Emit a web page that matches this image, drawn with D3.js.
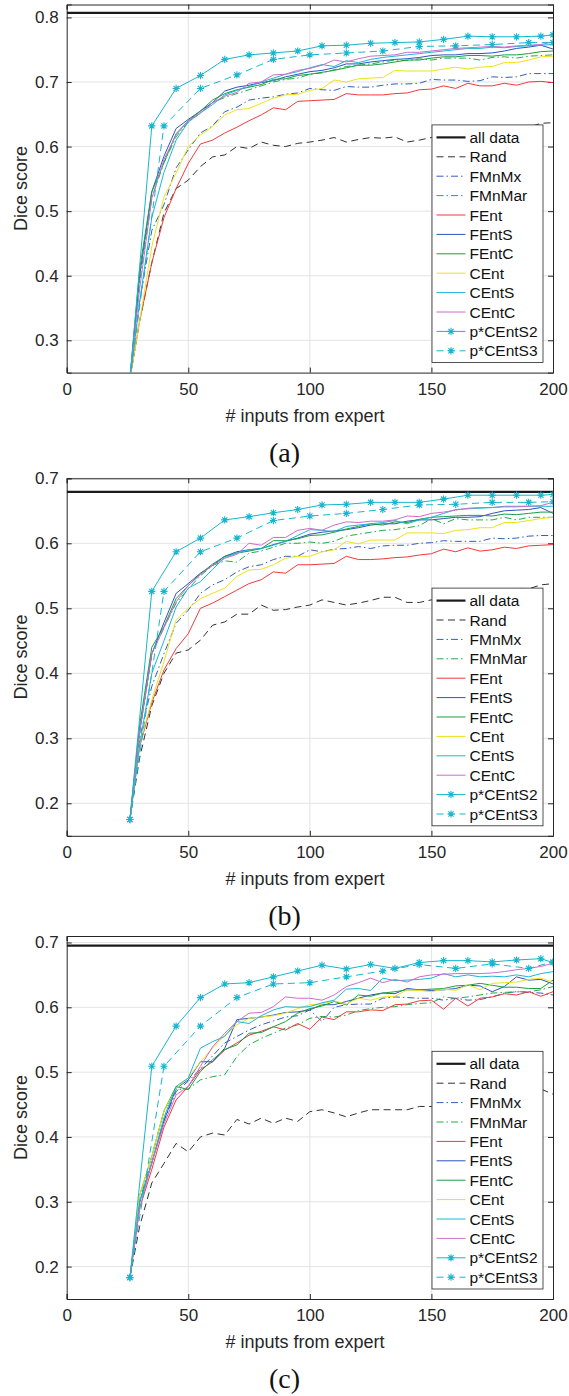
<!DOCTYPE html>
<html lang="en">
<head>
<meta charset="UTF-8">
<title>Dice score vs. number of expert inputs</title>
<script src="https://d3js.org/d3.v7.min.js"></script>
<style>
  body { margin: 0; background: #fff; }
  svg { display: block; font-family: "Liberation Sans", Arial, sans-serif; }
</style>
</head>
<body>
<svg id="chart" width="569" height="1396"></svg>
<script>
// x positions (number of inputs) shared by the plain curves
const xSteps = [26, 30, 35, 40, 45, 50, 55, 60, 65, 70, 75, 80, 85, 90, 95, 100, 105, 110, 115, 120,
                125, 130, 135, 140, 145, 150, 155, 160, 165, 170, 175, 180, 185, 190, 195, 200];
const xS2 = [26, 35, 45, 55, 65, 75, 85, 95, 105, 115, 125, 135, 145, 155, 165, 175, 185, 195, 200];
const xS3 = [26, 40, 55, 70, 85, 100, 115, 130, 145, 160, 175, 190, 200];

const seriesNames = ["all data", "Rand", "FMnMx", "FMnMar", "FEnt", "FEntS", "FEntC",
                     "CEnt", "CEntS", "CEntC", "p*CEntS2", "p*CEntS3"];
const panelLabels = ["(a)", "(b)", "(c)"];
const xTicks = [0, 50, 100, 150, 200];

// ---- panel (a)
const allA = 0.807;
const randA = [0.24, 0.33, 0.42, 0.497, 0.535, 0.548, 0.569, 0.584, 0.587, 0.600, 0.597, 0.607, 0.602, 0.600, 0.605, 0.607, 0.610, 0.614, 0.607, 0.611, 0.614, 0.613, 0.615, 0.607, 0.610, 0.614, 0.612, 0.615, 0.618, 0.620, 0.622, 0.625, 0.627, 0.630, 0.636, 0.637];
const fmnmxA = [0.24, 0.36, 0.47, 0.51, 0.567, 0.595, 0.621, 0.632, 0.654, 0.661, 0.672, 0.675, 0.677, 0.681, 0.683, 0.690, 0.688, 0.687, 0.693, 0.692, 0.692, 0.695, 0.697, 0.697, 0.698, 0.704, 0.703, 0.703, 0.701, 0.702, 0.708, 0.707, 0.708, 0.713, 0.713, 0.713];
const fmnmarA = [0.24, 0.39, 0.52, 0.575, 0.615, 0.638, 0.652, 0.668, 0.676, 0.682, 0.688, 0.694, 0.700, 0.704, 0.706, 0.712, 0.714, 0.719, 0.724, 0.726, 0.728, 0.731, 0.734, 0.733, 0.736, 0.734, 0.737, 0.737, 0.737, 0.734, 0.738, 0.739, 0.737, 0.740, 0.741, 0.742];
const fentA = [0.24, 0.33, 0.42, 0.49, 0.535, 0.574, 0.604, 0.610, 0.621, 0.630, 0.640, 0.649, 0.660, 0.657, 0.670, 0.671, 0.672, 0.673, 0.682, 0.680, 0.680, 0.680, 0.682, 0.683, 0.688, 0.689, 0.694, 0.690, 0.698, 0.694, 0.694, 0.698, 0.695, 0.700, 0.701, 0.699];
const fentsA = [0.24, 0.40, 0.53, 0.585, 0.628, 0.642, 0.655, 0.668, 0.686, 0.692, 0.695, 0.699, 0.702, 0.708, 0.712, 0.716, 0.718, 0.722, 0.728, 0.728, 0.731, 0.733, 0.735, 0.736, 0.738, 0.741, 0.742, 0.742, 0.744, 0.744, 0.745, 0.748, 0.752, 0.754, 0.757, 0.751];
const fentcA = [0.24, 0.41, 0.53, 0.575, 0.620, 0.640, 0.655, 0.672, 0.682, 0.688, 0.692, 0.696, 0.704, 0.705, 0.710, 0.712, 0.715, 0.718, 0.722, 0.726, 0.726, 0.728, 0.731, 0.734, 0.734, 0.737, 0.739, 0.739, 0.741, 0.741, 0.740, 0.742, 0.742, 0.744, 0.747, 0.748];
const centA = [0.24, 0.33, 0.445, 0.522, 0.559, 0.600, 0.618, 0.631, 0.649, 0.657, 0.659, 0.667, 0.675, 0.680, 0.681, 0.687, 0.690, 0.703, 0.700, 0.705, 0.706, 0.707, 0.718, 0.717, 0.717, 0.717, 0.720, 0.723, 0.720, 0.723, 0.724, 0.730, 0.730, 0.734, 0.739, 0.740];
const centsA = [0.24, 0.36, 0.49, 0.56, 0.610, 0.638, 0.652, 0.665, 0.680, 0.687, 0.693, 0.700, 0.706, 0.712, 0.716, 0.722, 0.727, 0.724, 0.733, 0.730, 0.735, 0.738, 0.740, 0.742, 0.744, 0.746, 0.748, 0.750, 0.752, 0.752, 0.754, 0.753, 0.755, 0.756, 0.757, 0.758];
const centcA = [0.24, 0.38, 0.52, 0.58, 0.618, 0.640, 0.652, 0.668, 0.678, 0.684, 0.698, 0.700, 0.711, 0.712, 0.718, 0.721, 0.726, 0.734, 0.731, 0.736, 0.740, 0.741, 0.742, 0.746, 0.746, 0.748, 0.750, 0.752, 0.753, 0.754, 0.755, 0.754, 0.756, 0.757, 0.758, 0.762];
const s2A = [0.24, 0.632, 0.690, 0.710, 0.735, 0.742, 0.745, 0.748, 0.756, 0.757, 0.760, 0.761, 0.762, 0.766, 0.771, 0.770, 0.770, 0.771, 0.773];
const s3A = [0.24, 0.632, 0.690, 0.711, 0.735, 0.742, 0.745, 0.748, 0.755, 0.756, 0.758, 0.761, 0.761];

// ---- panel (b)
const allB = 0.679;
const randB = [0.175, 0.27, 0.35, 0.40, 0.431, 0.436, 0.451, 0.474, 0.479, 0.491, 0.491, 0.505, 0.497, 0.498, 0.502, 0.505, 0.513, 0.509, 0.505, 0.508, 0.512, 0.517, 0.517, 0.509, 0.509, 0.513, 0.514, 0.516, 0.520, 0.522, 0.525, 0.527, 0.530, 0.530, 0.536, 0.538];
const fmnmxB = [0.175, 0.30, 0.38, 0.43, 0.477, 0.497, 0.523, 0.536, 0.544, 0.556, 0.564, 0.567, 0.575, 0.580, 0.580, 0.590, 0.587, 0.591, 0.592, 0.595, 0.592, 0.596, 0.597, 0.597, 0.600, 0.601, 0.604, 0.603, 0.603, 0.603, 0.608, 0.607, 0.608, 0.611, 0.612, 0.612];
const fmnmarB = [0.175, 0.31, 0.43, 0.47, 0.508, 0.530, 0.550, 0.566, 0.573, 0.571, 0.585, 0.588, 0.594, 0.600, 0.600, 0.602, 0.600, 0.603, 0.611, 0.614, 0.617, 0.620, 0.621, 0.624, 0.627, 0.638, 0.630, 0.638, 0.636, 0.636, 0.636, 0.640, 0.636, 0.640, 0.640, 0.640];
const fentB = [0.175, 0.287, 0.355, 0.405, 0.438, 0.461, 0.500, 0.508, 0.518, 0.528, 0.538, 0.544, 0.556, 0.554, 0.567, 0.567, 0.568, 0.569, 0.580, 0.575, 0.575, 0.576, 0.578, 0.579, 0.582, 0.584, 0.591, 0.587, 0.593, 0.588, 0.590, 0.594, 0.592, 0.596, 0.597, 0.598];
const fentsB = [0.175, 0.31, 0.43, 0.478, 0.523, 0.538, 0.554, 0.566, 0.580, 0.587, 0.590, 0.592, 0.598, 0.603, 0.608, 0.614, 0.617, 0.619, 0.621, 0.624, 0.628, 0.630, 0.630, 0.634, 0.636, 0.636, 0.638, 0.640, 0.640, 0.641, 0.646, 0.650, 0.651, 0.652, 0.655, 0.646];
const fentcB = [0.175, 0.32, 0.44, 0.472, 0.515, 0.535, 0.553, 0.568, 0.580, 0.585, 0.588, 0.592, 0.604, 0.604, 0.607, 0.612, 0.613, 0.617, 0.622, 0.626, 0.630, 0.628, 0.633, 0.632, 0.637, 0.640, 0.641, 0.642, 0.643, 0.643, 0.642, 0.645, 0.644, 0.646, 0.648, 0.648];
const centB = [0.175, 0.29, 0.359, 0.418, 0.482, 0.500, 0.515, 0.523, 0.531, 0.549, 0.559, 0.560, 0.567, 0.577, 0.580, 0.580, 0.587, 0.590, 0.603, 0.599, 0.605, 0.605, 0.605, 0.616, 0.616, 0.616, 0.615, 0.620, 0.621, 0.624, 0.624, 0.632, 0.632, 0.635, 0.638, 0.640];
const centsB = [0.175, 0.29, 0.40, 0.45, 0.502, 0.531, 0.541, 0.560, 0.578, 0.585, 0.590, 0.592, 0.597, 0.603, 0.612, 0.621, 0.620, 0.618, 0.626, 0.628, 0.630, 0.632, 0.635, 0.630, 0.636, 0.640, 0.646, 0.652, 0.653, 0.654, 0.655, 0.657, 0.657, 0.657, 0.657, 0.657];
const centcB = [0.175, 0.31, 0.43, 0.47, 0.510, 0.535, 0.552, 0.566, 0.577, 0.583, 0.600, 0.597, 0.609, 0.609, 0.620, 0.623, 0.620, 0.628, 0.633, 0.632, 0.634, 0.634, 0.636, 0.642, 0.641, 0.646, 0.648, 0.651, 0.654, 0.655, 0.655, 0.656, 0.656, 0.657, 0.658, 0.663];
const s2B = [0.175, 0.526, 0.587, 0.608, 0.636, 0.641, 0.647, 0.652, 0.659, 0.660, 0.663, 0.663, 0.663, 0.668, 0.674, 0.674, 0.674, 0.674, 0.675];
const s3B = [0.175, 0.526, 0.587, 0.608, 0.635, 0.642, 0.646, 0.652, 0.659, 0.660, 0.663, 0.663, 0.664];

// ---- panel (c)
const allC = 0.695;
const randC = [0.183, 0.262, 0.329, 0.359, 0.390, 0.377, 0.400, 0.406, 0.403, 0.427, 0.420, 0.429, 0.421, 0.429, 0.424, 0.439, 0.442, 0.437, 0.431, 0.437, 0.442, 0.442, 0.442, 0.442, 0.447, 0.447, 0.447, 0.448, 0.449, 0.452, 0.455, 0.458, 0.460, 0.464, 0.474, 0.466];
const fmnmxC = [0.183, 0.30, 0.36, 0.425, 0.470, 0.486, 0.505, 0.525, 0.545, 0.555, 0.565, 0.573, 0.579, 0.585, 0.587, 0.596, 0.578, 0.600, 0.604, 0.605, 0.605, 0.614, 0.616, 0.615, 0.614, 0.614, 0.611, 0.614, 0.611, 0.612, 0.616, 0.622, 0.624, 0.623, 0.622, 0.619];
const fmnmarC = [0.183, 0.30, 0.37, 0.44, 0.473, 0.474, 0.488, 0.493, 0.496, 0.524, 0.542, 0.552, 0.560, 0.568, 0.573, 0.583, 0.586, 0.585, 0.588, 0.595, 0.598, 0.600, 0.601, 0.604, 0.606, 0.607, 0.616, 0.614, 0.616, 0.619, 0.622, 0.623, 0.624, 0.624, 0.627, 0.632];
const fentC = [0.183, 0.29, 0.35, 0.415, 0.457, 0.478, 0.504, 0.516, 0.534, 0.545, 0.557, 0.563, 0.570, 0.565, 0.575, 0.566, 0.585, 0.581, 0.593, 0.593, 0.596, 0.595, 0.604, 0.605, 0.610, 0.611, 0.597, 0.614, 0.602, 0.614, 0.616, 0.621, 0.619, 0.624, 0.617, 0.624];
const fentsC = [0.183, 0.30, 0.36, 0.425, 0.475, 0.488, 0.516, 0.516, 0.537, 0.581, 0.583, 0.585, 0.588, 0.592, 0.593, 0.596, 0.604, 0.604, 0.609, 0.614, 0.619, 0.622, 0.621, 0.629, 0.627, 0.626, 0.627, 0.629, 0.634, 0.633, 0.624, 0.632, 0.647, 0.642, 0.643, 0.636];
const fentcC = [0.183, 0.31, 0.37, 0.44, 0.478, 0.473, 0.501, 0.519, 0.535, 0.542, 0.560, 0.561, 0.570, 0.578, 0.591, 0.598, 0.602, 0.609, 0.604, 0.619, 0.617, 0.622, 0.624, 0.627, 0.627, 0.628, 0.629, 0.633, 0.634, 0.637, 0.634, 0.631, 0.631, 0.629, 0.629, 0.642];
const centC = [0.183, 0.31, 0.37, 0.44, 0.475, 0.491, 0.516, 0.537, 0.557, 0.573, 0.583, 0.585, 0.587, 0.591, 0.598, 0.604, 0.605, 0.610, 0.605, 0.614, 0.611, 0.616, 0.617, 0.627, 0.626, 0.624, 0.628, 0.626, 0.635, 0.627, 0.637, 0.638, 0.639, 0.643, 0.645, 0.639];
const centsC = [0.183, 0.30, 0.36, 0.43, 0.478, 0.491, 0.537, 0.547, 0.555, 0.578, 0.575, 0.587, 0.596, 0.601, 0.600, 0.601, 0.607, 0.611, 0.628, 0.629, 0.626, 0.645, 0.641, 0.642, 0.643, 0.645, 0.652, 0.647, 0.650, 0.647, 0.648, 0.647, 0.650, 0.647, 0.652, 0.655];
const centcC = [0.183, 0.29, 0.36, 0.42, 0.465, 0.478, 0.509, 0.539, 0.560, 0.578, 0.591, 0.592, 0.601, 0.616, 0.614, 0.614, 0.611, 0.619, 0.632, 0.638, 0.645, 0.638, 0.643, 0.639, 0.647, 0.650, 0.651, 0.652, 0.652, 0.652, 0.653, 0.655, 0.658, 0.660, 0.663, 0.668];
const s2C = [0.183, 0.509, 0.571, 0.615, 0.636, 0.638, 0.647, 0.656, 0.665, 0.659, 0.666, 0.660, 0.669, 0.672, 0.672, 0.670, 0.673, 0.675, 0.669];
const s3C = [0.183, 0.509, 0.571, 0.615, 0.636, 0.638, 0.647, 0.656, 0.666, 0.660, 0.667, 0.660, 0.670];

// line styles, in plotting order
const styles = [
  { color: "#1a1a1a", dash: null,          width: 2.2 },
  { color: "#1a1a1a", dash: "7,4.5",       width: 0.9 },
  { color: "#2f5fc0", dash: "7,3,1.5,3",   width: 1 },
  { color: "#1fae4a", dash: "7,3,1.5,3",   width: 1 },
  { color: "#f03a3a", dash: null,          width: 1 },
  { color: "#2a55c0", dash: null,          width: 1 },
  { color: "#18a040", dash: null,          width: 1 },
  { color: "#ece21a", dash: null,          width: 1 },
  { color: "#1cb6d6", dash: null,          width: 1 },
  { color: "#cc6ccc", dash: null,          width: 1 },
  { color: "#16b6cf", dash: null,          width: 1, marker: true },
  { color: "#16b6cf", dash: "7,4.5",       width: 1, marker: true }
];

const panels = [
  { top: 4.5,   bottom: 372.6, domain: [0.25, 0.82], ticks: [0.3, 0.4, 0.5, 0.6, 0.7, 0.8],
    all: allA, data: [randA, fmnmxA, fmnmarA, fentA, fentsA, fentcA, centA, centsA, centcA, s2A, s3A] },
  { top: 478.3, bottom: 835.8, domain: [0.15, 0.70], ticks: [0.2, 0.3, 0.4, 0.5, 0.6, 0.7],
    all: allB, data: [randB, fmnmxB, fmnmarB, fentB, fentsB, fentcB, centB, centsB, centcB, s2B, s3B] },
  { top: 936,   bottom: 1299,  domain: [0.15, 0.71], ticks: [0.2, 0.3, 0.4, 0.5, 0.6, 0.7],
    all: allC, data: [randC, fmnmxC, fmnmarC, fentC, fentsC, fentcC, centC, centsC, centcC, s2C, s3C] }
];

const svg = d3.select("#chart");
const left = 66.7, right = 553;
const x = d3.scaleLinear().domain([0, 200]).range([left, right]);
const axisColor = "#262626";
const star = "M-3.6,0H3.6M0,-3.6V3.6M-2.6,-2.6L2.6,2.6M-2.6,2.6L2.6,-2.6";

panels.forEach((p, pi) => {
  const y = d3.scaleLinear().domain(p.domain).range([p.bottom, p.top]);
  const g = svg.append("g");
  const clipId = "clip" + pi;
  g.append("clipPath").attr("id", clipId).append("rect")
    .attr("x", left).attr("y", p.top).attr("width", right - left).attr("height", p.bottom - p.top);

  // grid
  g.append("g").selectAll("line").data(xTicks.slice(1, -1)).join("line")
    .attr("x1", d => x(d)).attr("x2", d => x(d)).attr("y1", p.top).attr("y2", p.bottom)
    .attr("stroke", "#e3e3e3").attr("stroke-width", 1);
  g.append("g").selectAll("line").data(p.ticks).join("line")
    .attr("x1", left).attr("x2", right).attr("y1", d => y(d)).attr("y2", d => y(d))
    .attr("stroke", "#e3e3e3").attr("stroke-width", 1);

  // axes with inward ticks on all four sides
  const xb = d3.axisBottom(x).tickValues(xTicks).tickSize(-5).tickPadding(10).tickFormat(d3.format("d"));
  const xt = d3.axisTop(x).tickValues(xTicks).tickSize(-5).tickFormat("");
  const yl = d3.axisLeft(y).tickValues(p.ticks).tickSize(-5).tickPadding(8).tickFormat(d3.format(".1f"));
  const yr = d3.axisRight(y).tickValues(p.ticks).tickSize(-5).tickFormat("");
  [[xb, `translate(0,${p.bottom})`], [xt, `translate(0,${p.top})`],
   [yl, `translate(${left},0)`], [yr, `translate(${right},0)`]].forEach(([ax, tr]) => {
    const a = g.append("g").attr("transform", tr).call(ax);
    a.select(".domain").attr("stroke", axisColor).attr("stroke-width", 1);
    a.selectAll(".tick line").attr("stroke", axisColor);
    a.selectAll("text").attr("fill", axisColor).attr("font-size", 17)
      .attr("font-family", "'Liberation Sans', Arial, sans-serif");
  });

  // curves
  const plot = g.append("g").attr("clip-path", `url(#${clipId})`);
  const line = d3.line().x(d => x(d[0])).y(d => y(d[1]));
  plot.append("line").attr("x1", left).attr("x2", right)
    .attr("y1", y(p.all)).attr("y2", y(p.all))
    .attr("stroke", styles[0].color).attr("stroke-width", styles[0].width);
  p.data.forEach((vals, si) => {
    const st = styles[si + 1];
    const xsUse = si === 9 ? xS2 : si === 10 ? xS3 : xSteps;
    const pts = vals.map((v, i) => [xsUse[i], v]);
    plot.append("path").datum(pts).attr("d", line)
      .attr("fill", "none").attr("stroke", st.color).attr("stroke-width", st.width)
      .attr("stroke-dasharray", st.dash);
    if (st.marker) {
      plot.append("g").selectAll("path").data(pts).join("path")
        .attr("transform", d => `translate(${x(d[0])},${y(d[1])})`)
        .attr("d", star).attr("stroke", st.color).attr("stroke-width", 1.1).attr("fill", "none");
    }
  });

  // legend (bottom right)
  const rowH = 19.4, lw = 111, lh = 237.7;
  const lx = right - 10 - lw, ly = p.bottom - 10 - lh;
  const leg = g.append("g").attr("transform", `translate(${lx},${ly})`);
  leg.append("rect").attr("width", lw).attr("height", lh)
    .attr("fill", "#fff").attr("stroke", axisColor).attr("stroke-width", 0.8);
  seriesNames.forEach((name, i) => {
    const st = styles[i];
    const cy = 12.5 + i * rowH;
    leg.append("line").attr("x1", 4.5).attr("x2", 33.5).attr("y1", cy).attr("y2", cy)
      .attr("stroke", st.color).attr("stroke-width", st.width).attr("stroke-dasharray", st.dash);
    if (st.marker) {
      leg.append("path").attr("transform", `translate(19,${cy})`).attr("d", star)
        .attr("stroke", st.color).attr("stroke-width", 1.1);
    }
    leg.append("text").attr("x", 37.5).attr("y", cy).attr("dy", "0.36em")
      .attr("font-size", 15.5).attr("fill", "#111").text(name);
  });

  // labels
  g.append("text").attr("x", 305).attr("y", p.bottom + 43).attr("dy", "0.36em")
    .attr("text-anchor", "middle").attr("font-size", 18).attr("fill", axisColor)
    .text("# inputs from expert");
  g.append("text")
    .attr("transform", `translate(21,${(p.top + p.bottom) / 2}) rotate(-90)`)
    .attr("dy", "0.36em").attr("text-anchor", "middle").attr("font-size", 18).attr("fill", axisColor)
    .text("Dice score");
  g.append("text").attr("x", 284.5).attr("y", p.bottom + 80).attr("dy", "0.33em")
    .attr("text-anchor", "middle").attr("font-size", 28).attr("fill", "#111")
    .attr("font-family", "'Liberation Serif', 'DejaVu Serif', serif")
    .text(panelLabels[pi]);
});
</script>
</body>
</html>
